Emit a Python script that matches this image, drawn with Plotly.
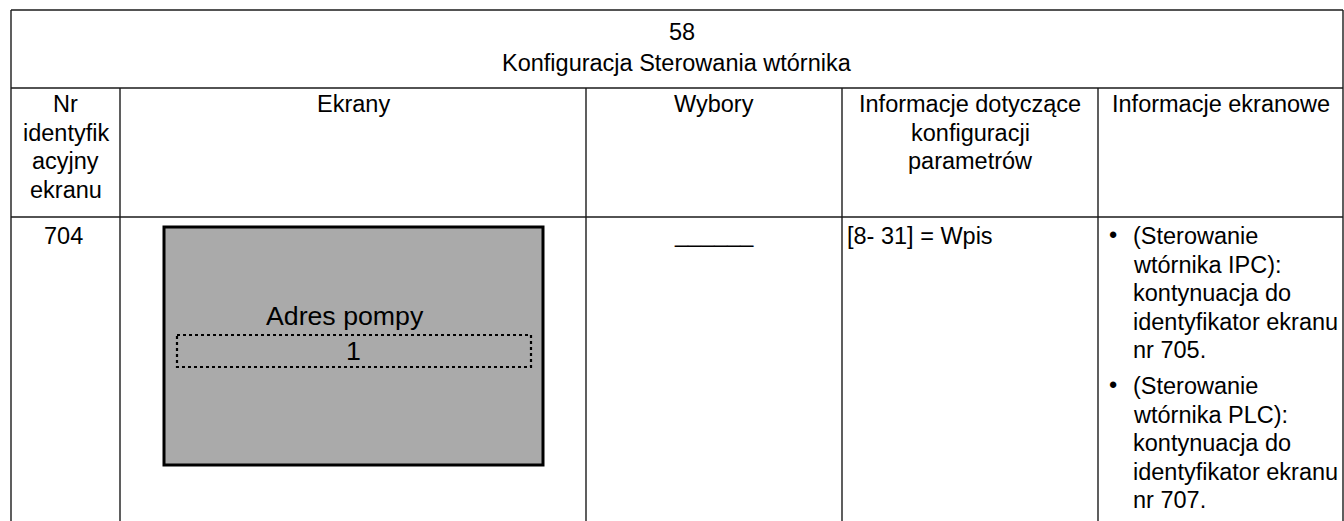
import plotly.graph_objects as go

W, H = 1344, 521

# ---- table content ----
title_number = "58"
title_text = "Konfiguracja Sterowania wtórnika"
header_lines = [
    ["Nr", "identyfik", "acyjny", "ekranu"],
    ["Ekrany"],
    ["Wybory"],
    ["Informacje dotyczące", "konfiguracji", "parametrów"],
    ["Informacje ekranowe"],
]
screen_id = "704"
screen_label = "Adres pompy"
screen_value = "1"
choices_text = "______"
param_info = "[8- 31] = Wpis"
screen_info_bullets = [
    ["(Sterowanie", "wtórnika IPC):", "kontynuacja do", "identyfikator ekranu", "nr 705."],
    ["(Sterowanie", "wtórnika PLC):", "kontynuacja do", "identyfikator ekranu", "nr 707."],
]

# ---- layout geometry (screen pixels) ----
col_edges = [11, 120, 586, 842, 1098, 1343]
row_edges = [10, 88, 217, H + 5]
line_step = 28.6
FONT = "Liberation Sans, Arial, sans-serif"
FS = 23.5
LINE_COLOR = "#1a1a1a"

fig = go.Figure()
shapes = []
annotations = []

def hline(y, x0, x1):
    shapes.append(dict(type="line", x0=x0, x1=x1, y0=y, y1=y,
                       line=dict(color=LINE_COLOR, width=1.4), layer="above"))

def vline(x, y0, y1):
    shapes.append(dict(type="line", x0=x, x1=x, y0=y0, y1=y1,
                       line=dict(color=LINE_COLOR, width=1.4), layer="above"))

def text(x, y, s, size=FS, xanchor="center"):
    annotations.append(dict(x=x, y=y, text=s, showarrow=False, xanchor=xanchor,
                            yanchor="middle", xref="x", yref="y",
                            font=dict(family=FONT, size=size, color="#000000")))

# outer + row lines
for y in row_edges[:3]:
    hline(y, col_edges[0], col_edges[-1])
vline(col_edges[0], row_edges[0], row_edges[-1])
vline(col_edges[-1], row_edges[0], row_edges[-1])
for x in col_edges[1:-1]:
    vline(x, row_edges[1], row_edges[-1])

# title
cx_all = (col_edges[0] + col_edges[-1]) / 2
text(cx_all + 5, 32, title_number)
text(cx_all, 63, title_text)

# headers
for i, lines in enumerate(header_lines):
    cx = (col_edges[i] + col_edges[i + 1]) / 2
    for j, s in enumerate(lines):
        text(cx, 104 + j * line_step, s)

# body row
body_y = 236
text((col_edges[0] + col_edges[1]) / 2 - 2, body_y, screen_id)
text((col_edges[2] + col_edges[3]) / 2, body_y - 2, choices_text)
text(col_edges[3] + 3, body_y, param_info, xanchor="left")

# screen mock-up
box_x0, box_x1, box_y0, box_y1 = 164, 543, 227, 465
shapes.append(dict(type="rect", x0=box_x0, x1=box_x1, y0=box_y0, y1=box_y1,
                   fillcolor="#aaaaaa", line=dict(color="#000000", width=3), layer="below"))
shapes.append(dict(type="rect", x0=177, x1=531, y0=335, y1=367,
                   line=dict(color="#000000", width=2.2, dash="dot"), layer="above"))
box_cx = (box_x0 + box_x1) / 2
text(box_cx - 9, 316, screen_label, size=26.7)
text(box_cx, 351, screen_value, size=26.7)

# screen info bullets
bullet_x = col_edges[4] + 15
text_x = col_edges[4] + 33
start_y = [body_y, body_y + 150]
for b, lines in enumerate(screen_info_bullets):
    text(bullet_x, start_y[b] - 1, "•")
    for j, s in enumerate(lines):
        text(text_x, start_y[b] + j * line_step, s, xanchor="left")

fig.update_layout(
    width=W, height=H,
    margin=dict(l=0, r=0, t=0, b=0),
    paper_bgcolor="white", plot_bgcolor="white",
    xaxis=dict(range=[0, W], visible=False, fixedrange=True),
    yaxis=dict(range=[H, 0], visible=False, fixedrange=True),
    shapes=shapes, annotations=annotations, showlegend=False,
)
fig.write_html(
    "out.html",
    config={"displayModeBar": False},
    post_script=(
        "document.body.style.margin='0';"
        "document.body.style.overflow='hidden';"
        "document.documentElement.style.overflow='hidden';"
    ),
)
